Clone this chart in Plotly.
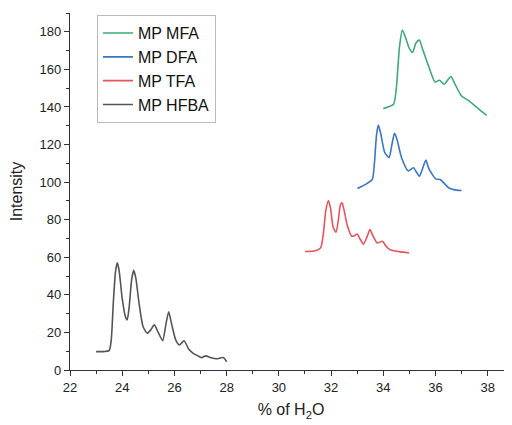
import plotly.graph_objects as go

# MP HFBA
hfba_x = [23.0, 23.3, 23.5, 23.58, 23.66, 23.74, 23.81, 23.88, 24.0, 24.12, 24.19, 24.27, 24.36, 24.44, 24.52,
          24.65, 24.8, 24.96, 25.1, 25.23, 25.38, 25.55, 25.67, 25.78, 25.9, 26.05, 26.19, 26.37, 26.55,
          26.72, 26.9, 27.04, 27.2, 27.4, 27.62, 27.87, 28.0]
hfba_y = [9.8, 9.8, 10.3, 16.0, 36.0, 52.0, 57.0, 53.0, 38.0, 28.5, 26.7, 34.0, 48.0, 53.0, 49.0,
          35.0, 23.0, 19.6, 21.5, 24.0, 20.0, 15.6, 24.0, 31.0, 24.0, 16.0, 13.3, 15.6, 11.0,
          8.9, 7.5, 6.6, 7.5, 6.5, 6.0, 6.6, 4.4]

# MP TFA
tfa_x = [31.0, 31.4, 31.6, 31.7, 31.8, 31.9, 31.98, 32.08, 32.19, 32.28, 32.36, 32.42, 32.5, 32.62,
         32.79, 32.9, 33.0, 33.1, 33.24, 33.38, 33.49, 33.6, 33.77, 33.97, 34.1, 34.26, 34.6, 34.99]
tfa_y = [63.1, 63.5, 65.0, 72.0, 85.0, 90.2, 86.0, 76.0, 73.3, 80.0, 88.0, 89.0, 85.0, 77.0,
         71.2, 71.5, 72.4, 70.0, 67.0, 71.0, 74.7, 71.5, 67.6, 68.5, 66.0, 64.0, 63.0, 62.3]

# MP DFA
dfa_x = [33.01, 33.37, 33.58, 33.66, 33.74, 33.81, 33.9, 34.05, 34.22, 34.33, 34.43, 34.52, 34.7,
         34.96, 35.15, 35.38, 35.5, 35.63, 35.75, 36.01, 36.18, 36.5, 36.7, 37.0]
dfa_y = [96.6, 99.2, 101.4, 110.0, 125.0, 130.4, 126.0, 116.0, 113.0, 120.0, 126.0, 123.0, 113.0,
         105.9, 107.6, 103.2, 107.0, 111.7, 107.0, 101.7, 101.4, 97.0, 96.0, 95.5]

# MP MFA
mfa_x = [34.0, 34.39, 34.5, 34.62, 34.73, 34.85, 35.0, 35.12, 35.25, 35.38, 35.5, 35.73, 35.98,
         36.15, 36.33, 36.45, 36.59, 36.75, 37.0, 37.26, 37.6, 37.96]
mfa_y = [139.1, 141.4, 150.0, 172.0, 180.9, 177.0, 171.0, 169.0, 174.0, 175.6, 171.0, 161.9, 153.3,
         154.2, 152.1, 154.0, 156.2, 152.0, 145.8, 143.5, 139.5, 135.5]

series = [
    ("MP MFA", mfa_x, mfa_y, "#3fa97a"),
    ("MP DFA", dfa_x, dfa_y, "#3a76c6"),
    ("MP TFA", tfa_x, tfa_y, "#e9545c"),
    ("MP HFBA", hfba_x, hfba_y, "#555555"),
]

fig = go.Figure()
for name, xs, ys, col in series:
    fig.add_trace(go.Scatter(x=xs, y=ys, name=name, mode="lines",
                             line=dict(color=col, width=1.6, shape="spline", smoothing=0.6)))

axis_common = dict(showline=True, linecolor="#333333", linewidth=1.2, ticks="outside",
                   tickcolor="#333333", ticklen=5, tickwidth=1.2, showgrid=False, zeroline=False,
                   tickfont=dict(size=13, color="#222222"))

fig.update_layout(
    width=504, height=417,
    margin=dict(l=62, r=0, t=5, b=55),
    paper_bgcolor="white", plot_bgcolor="white",
    font=dict(family="Liberation Sans, Arial, sans-serif", color="#222222"),
    showlegend=True,
    legend=dict(x=0.061, y=0.994, xanchor="left", yanchor="top",
                bordercolor="#bbbbbb", borderwidth=1, bgcolor="white",
                font=dict(size=16, color="#111111"), tracegroupgap=0),
    xaxis=dict(range=[22, 38.93], dtick=2, tick0=22,
               minor=dict(dtick=1, ticks="outside", ticklen=3, tickcolor="#333333"),
               title=dict(text="% of H<sub>2</sub>O", font=dict(size=16), standoff=10),
               **axis_common),
    yaxis=dict(range=[0, 190], dtick=20, tick0=0,
               minor=dict(dtick=10, ticks="outside", ticklen=3, tickcolor="#333333"),
               title=dict(text="Intensity", font=dict(size=16), standoff=12),
               **axis_common),
)

fig.write_html("out.html")
